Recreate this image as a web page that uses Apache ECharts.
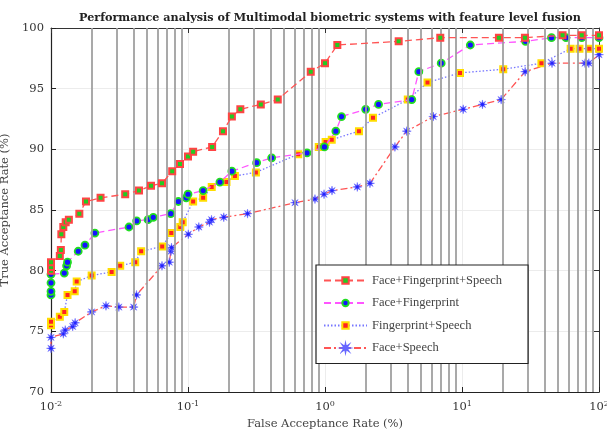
<!DOCTYPE html>
<html>
<head>
<meta charset="utf-8">
<script src="https://cdn.jsdelivr.net/npm/echarts@6/dist/echarts.min.js"></script>
<style>
  html, body { margin: 0; padding: 0; background: #fff; }
  #chart { width: 607px; height: 430px; }
</style>
</head>
<body>
<div id="chart"></div>
<script>
// [FAR %, TAR %]
const faceFingerSpeech = [
  [0.01, 80.0], [0.01, 80.3], [0.01, 80.7], [0.0116, 81.2], [0.0118, 81.7], [0.0119, 83.0],
  [0.0123, 83.6], [0.0128, 84.0], [0.0135, 84.2], [0.0161, 84.7], [0.018, 85.7], [0.023, 86.0],
  [0.0348, 86.3], [0.0439, 86.6], [0.0537, 87.0], [0.0646, 87.2], [0.0767, 88.2], [0.0874, 88.8],
  [0.1, 89.4], [0.109, 89.8], [0.15, 90.2], [0.18, 91.5], [0.209, 92.7], [0.241, 93.3],
  [0.34, 93.7], [0.452, 94.1], [0.787, 96.4], [1.0, 97.1], [1.23, 98.6], [3.45, 98.9],
  [6.94, 99.2], [18.6, 99.2], [28.8, 99.2], [54.2, 99.4], [74.8, 99.4], [100, 99.4]
];
const faceFinger = [
  [0.01, 78.0], [0.01, 78.3], [0.01, 79.0], [0.01, 79.7], [0.0125, 79.8], [0.013, 80.4],
  [0.0132, 80.7], [0.0158, 81.6], [0.0177, 82.1], [0.0209, 83.1], [0.0371, 83.6], [0.0422, 84.1],
  [0.0511, 84.2], [0.0558, 84.4], [0.0748, 84.7], [0.085, 85.7], [0.097, 86.0], [0.1, 86.3],
  [0.129, 86.6], [0.171, 87.3], [0.209, 88.2], [0.317, 88.9], [0.408, 89.3], [0.739, 89.7],
  [0.99, 90.2], [1.2, 91.5], [1.32, 92.7], [1.98, 93.3], [2.46, 93.7], [4.3, 94.1],
  [4.84, 96.4], [7.05, 97.1], [11.5, 98.6], [29.1, 98.9], [45, 99.2], [57.4, 99.2],
  [74.8, 99.2], [100, 99.2]
];
const fingerSpeech = [
  [0.01, 75.5], [0.01, 75.8], [0.0116, 76.2], [0.0125, 76.6], [0.0132, 78.0], [0.0149, 78.3],
  [0.0154, 79.1], [0.0198, 79.6], [0.0277, 79.9], [0.032, 80.4], [0.0412, 80.7], [0.0455, 81.6],
  [0.0648, 82.0], [0.0755, 83.1], [0.0879, 83.6], [0.0915, 84.0], [0.109, 85.7], [0.129, 86.0],
  [0.149, 86.9], [0.191, 87.3], [0.22, 87.8], [0.313, 88.1], [0.638, 89.6], [0.9, 90.2],
  [1.01, 90.6], [1.12, 90.8], [1.77, 91.5], [2.24, 92.6], [4.02, 94.1], [5.6, 95.5],
  [9.67, 96.3], [20, 96.6], [38, 97.1], [62.1, 98.3], [72, 98.3], [85, 98.3], [100, 98.3]
];
const faceSpeech = [
  [0.01, 73.6], [0.01, 74.5], [0.0123, 74.8], [0.0127, 75.1], [0.0144, 75.4], [0.015, 75.7],
  [0.0198, 76.6], [0.0252, 77.1], [0.0313, 77.0], [0.0401, 77.0], [0.0421, 78.0], [0.0646, 80.4],
  [0.073, 80.7], [0.0751, 81.6], [0.0758, 81.9], [0.1005, 83.0], [0.12, 83.6], [0.1435, 84.0],
  [0.1485, 84.2], [0.1825, 84.4], [0.272, 84.7], [0.604, 85.6], [0.845, 85.9], [0.984, 86.3],
  [1.125, 86.6], [1.72, 86.9], [2.13, 87.2], [3.24, 90.2], [3.95, 91.5], [6.17, 92.7],
  [10.2, 93.3], [14.1, 93.7], [19.3, 94.1], [28.9, 96.4], [45.4, 97.1], [79.1, 97.1],
  [84.3, 97.1], [100, 97.8]
];
const seriesNames = ["Face+Fingerprint+Speech", "Face+Fingerprint", "Fingerprint+Speech", "Face+Speech"];
// log-axis minor grid positions (2..9 per decade)
const minorGrid = [
  0.02, 0.03, 0.04, 0.05, 0.06, 0.07, 0.08, 0.09,
  0.2, 0.3, 0.4, 0.5, 0.6, 0.7, 0.8, 0.9,
  2, 3, 4, 5, 6, 7, 8, 9,
  20, 30, 40, 50, 60, 70, 80, 90
];

// asterisk-like star marker
let pts = [];
for (let k = 0; k < 16; k++) {
  let a = (k * Math.PI) / 8;
  let r = k % 2 === 0 ? 10 : 3.5;
  pts.push((r * Math.sin(a)).toFixed(2) + "," + (-r * Math.cos(a)).toFixed(2));
}
const starPath = "path://M" + pts.join(" L") + " Z";

const serif = "DejaVu Serif";
const times = "Liberation Serif";
const sup = { sup: { fontSize: 8, verticalAlign: "top", padding: [0, 0, 7, 0], fontFamily: serif, color: "#333" } };

let myChart = echarts.init(document.getElementById("chart"));
let option = {
  animation: false,
  title: {
    text: "Performance analysis of Multimodal biometric systems with feature level fusion",
    left: 325,
    textAlign: "center",
    top: 8,
    textStyle: { fontFamily: serif, fontSize: 11.2, fontWeight: "bold", color: "#222" },
  },
  grid: { left: 51, right: 8, top: 28, bottom: 38, outerBoundsMode: "none" },
  legend: {
    left: 316,
    top: 265,
    z: 20,
    orient: "vertical",
    backgroundColor: "#fff",
    borderColor: "#222",
    borderWidth: 1.2,
    borderRadius: 0,
    padding: [9, 26, 9, 7],
    itemGap: 9.5,
    itemWidth: 43,
    itemHeight: 8,
    textStyle: { fontFamily: times, fontSize: 12.5, color: "#444" },
    data: seriesNames,
  },
  xAxis: [
    {
      type: "log",
      logBase: 10,
      min: 0.01,
      max: 100,
      name: "False Acceptance Rate (%)",
      nameLocation: "middle",
      nameGap: 24,
      nameTextStyle: { fontFamily: serif, fontSize: 11.5, color: "#444" },
      axisLine: { lineStyle: { color: "#222", width: 1.2 } },
      axisTick: { inside: true, length: 5, lineStyle: { color: "#222" } },
      axisLabel: {
        fontFamily: serif,
        fontSize: 11.5,
        color: "#333",
        margin: 8,
        rich: sup,
        formatter: (v) => "10{sup|" + Math.round(Math.log10(v)) + "}",
      },
      splitLine: { show: true, lineStyle: { color: "#ececec", width: 1 } },
    },
    {
      type: "log",
      logBase: 10,
      min: 0.01,
      max: 100,
      position: "top",
      axisLine: { lineStyle: { color: "#333", width: 1 } },
      axisTick: { inside: true, length: 5, lineStyle: { color: "#333" } },
      axisLabel: { show: false },
      splitLine: { show: false },
    },
  ],
  yAxis: [
    {
      type: "value",
      min: 70,
      max: 100,
      interval: 5,
      name: "True Acceptance Rate (%)",
      nameLocation: "middle",
      nameGap: 27,
      nameTextStyle: { fontFamily: serif, fontSize: 11.5, color: "#444" },
      axisLine: { show: true, lineStyle: { color: "#222", width: 1.2 } },
      axisTick: { show: true, inside: true, length: 5, lineStyle: { color: "#222" } },
      axisLabel: { fontFamily: serif, fontSize: 11.5, color: "#333", margin: 7 },
      splitLine: { show: true, lineStyle: { color: "#ececec", width: 1 } },
    },
    {
      type: "value",
      min: 70,
      max: 100,
      interval: 5,
      position: "right",
      axisLine: { show: true, lineStyle: { color: "#333", width: 1 } },
      axisTick: { show: true, inside: true, length: 5, lineStyle: { color: "#333" } },
      axisLabel: { show: false },
      splitLine: { show: false },
    },
  ],
  series: [
    {
      // minor vertical grid
      type: "line",
      data: [],
      silent: true,
      z: 1,
      markLine: {
        silent: true,
        symbol: "none",
        label: { show: false },
        animation: false,
        lineStyle: { type: "solid", color: "#a0a0a0", width: 1.8 },
        data: minorGrid.map((v) => ({ xAxis: v })),
      },
    },
    {
      name: seriesNames[0],
      type: "line",
      data: faceFingerSpeech,
      symbol: "rect",
      symbolSize: 6,
      lineStyle: { color: "#ff5555", width: 1.3, type: [7, 4] },
      itemStyle: { color: "#22cc22", borderColor: "#ff4444", borderWidth: 2 },
      z: 5,
    },
    {
      name: seriesNames[1],
      type: "line",
      data: faceFinger,
      symbol: "circle",
      symbolSize: 7,
      lineStyle: { color: "#ff55ff", width: 1.3, type: [7, 4] },
      itemStyle: { color: "#1414ff", borderColor: "#22dd22", borderWidth: 1.8 },
      z: 4,
    },
    {
      name: seriesNames[2],
      type: "line",
      data: fingerSpeech,
      symbol: "rect",
      symbolSize: 6,
      lineStyle: { color: "#7777ff", width: 1.3, type: [1.5, 2] },
      itemStyle: { color: "#ff2222", borderColor: "#ffdd00", borderWidth: 2 },
      z: 3,
    },
    {
      name: seriesNames[3],
      type: "line",
      data: faceSpeech,
      symbol: starPath,
      symbolSize: 9,
      lineStyle: { color: "#ff5555", width: 1.3, type: [7, 3, 2, 3] },
      itemStyle: { color: "#2222ff", borderColor: "#6666ff", borderWidth: 0.5 },
      z: 2,
    },
  ],
};
myChart.setOption(option);
</script>
</body>
</html>
